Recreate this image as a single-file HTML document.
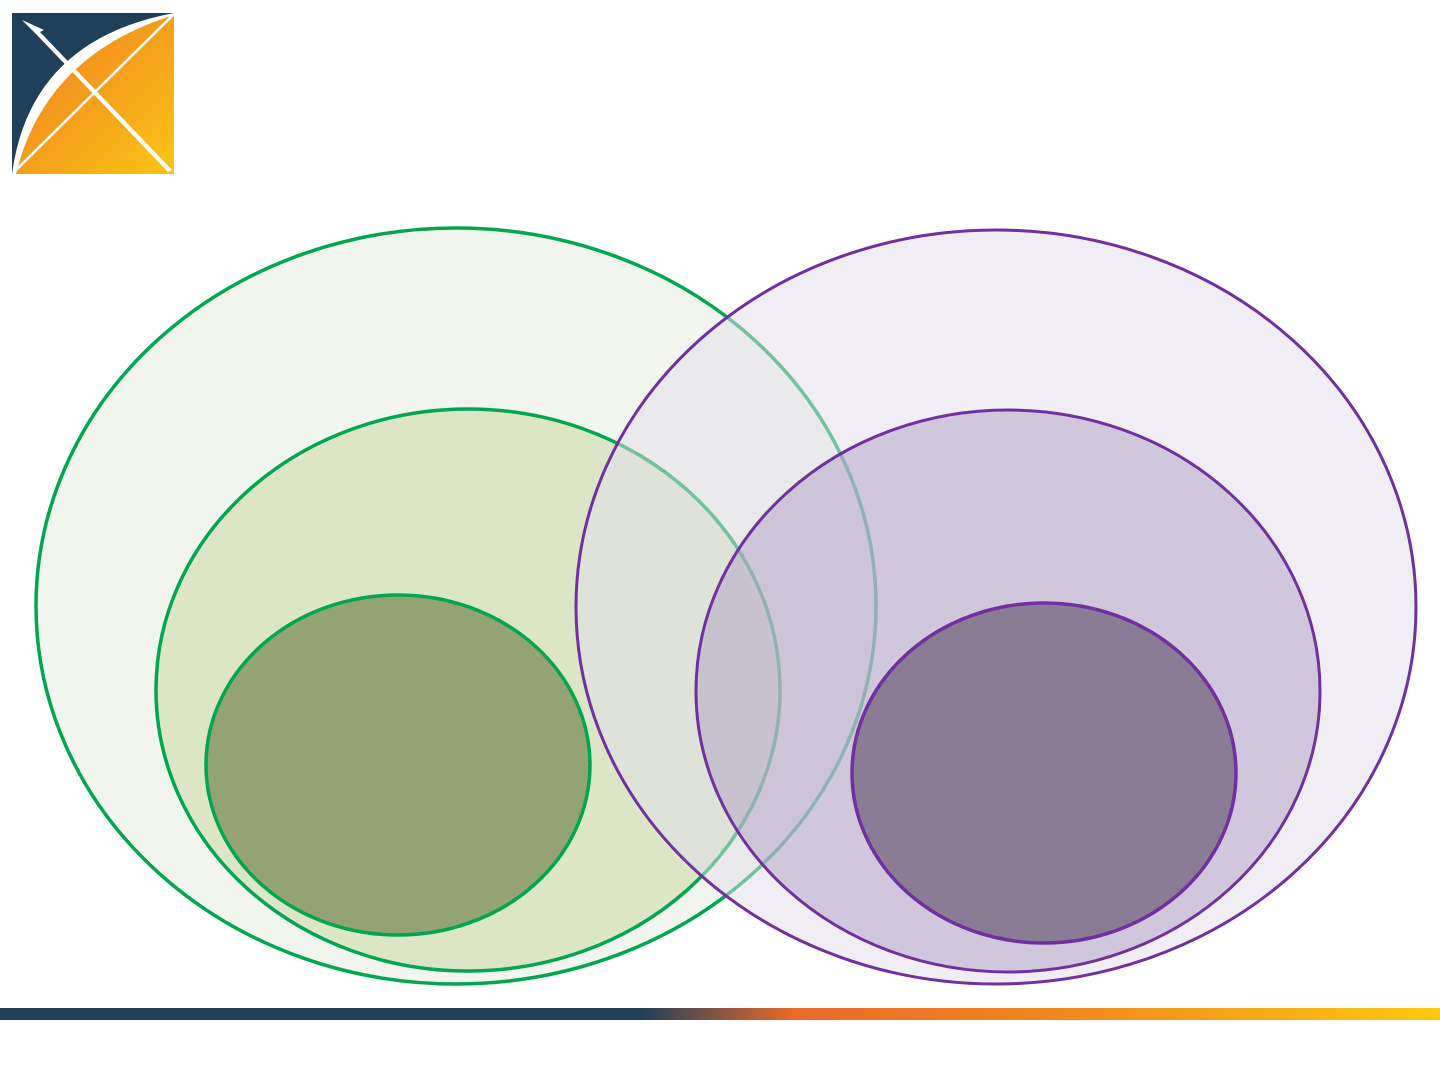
<!DOCTYPE html>
<html><head><meta charset="utf-8"><style>
html,body{margin:0;padding:0;background:#fff;width:1440px;height:1080px;overflow:hidden}
svg{display:block}
</style></head><body>
<svg width="1440" height="1080" viewBox="0 0 1440 1080">
<defs>
<linearGradient id="lg" x1="0" y1="0" x2="1" y2="1">
<stop offset="0" stop-color="#ee7b22"/><stop offset="1" stop-color="#fbc515"/>
</linearGradient>
<linearGradient id="bar" x1="0" y1="0" x2="1" y2="0">
<stop offset="0" stop-color="#1f3f5a"/><stop offset="0.445" stop-color="#1f3f5a"/>
<stop offset="0.55" stop-color="#e8692a"/><stop offset="0.75" stop-color="#f28a1e"/>
<stop offset="1" stop-color="#fcc910"/>
</linearGradient>
<clipPath id="lc"><rect x="12" y="13" width="162" height="161"/></clipPath>
</defs>
<g clip-path="url(#lc)">
<rect x="12" y="13" width="162" height="161" fill="#20405a"/>
<path d="M12 174 Q30 40 174 13 L174 174 Z" fill="#fff"/>
<path d="M16 174 Q45 55 174 15 L174 174 Z" fill="url(#lg)"/>
<line x1="14" y1="172" x2="173" y2="15" stroke="#fff" stroke-width="2.5"/>
<path d="M22 20 L44 30 L40 32 L172 170 L168 172 L36 34 Z" fill="#fff"/>
</g>
<g stroke="#00a650" stroke-width="3.5">
<ellipse cx="456" cy="606" rx="420" ry="378" fill="#f2f5ee"/>
<ellipse cx="468" cy="690" rx="312" ry="281" fill="#dce6c6"/>
<ellipse cx="398" cy="765" rx="192" ry="170" fill="#93a374"/>
</g>
<g>
<ellipse cx="996" cy="607" rx="420" ry="377" fill="rgba(225,221,233,0.5)" stroke="#7030a0" stroke-width="3"/>
<ellipse cx="1008" cy="691" rx="312" ry="281" fill="rgba(178,160,196,0.5)" stroke="#7030a0" stroke-width="3"/>
<ellipse cx="1044" cy="773" rx="192" ry="170" fill="#8a7c95" stroke="#7030a0" stroke-width="3.5"/>
</g>
<rect x="0" y="1008" width="1440" height="12" fill="url(#bar)"/>
</svg>
</body></html>
